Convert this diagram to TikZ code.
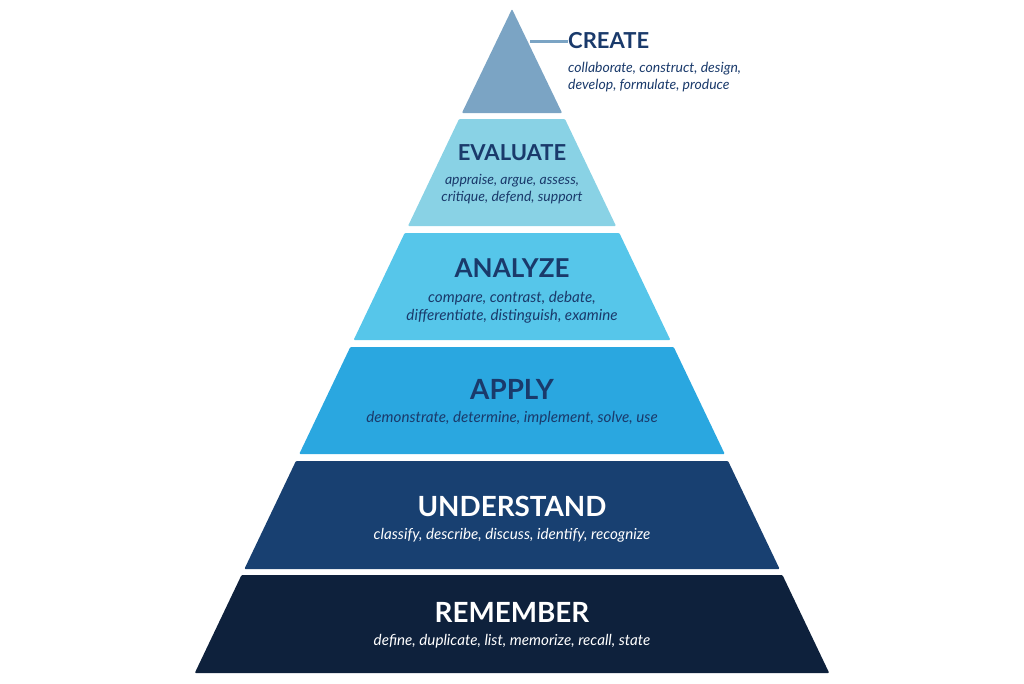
\documentclass[tikz,border=0pt]{standalone}
\usepackage{fontspec}
\setmainfont{Lato}
\usetikzlibrary{positioning}
\definecolor{colorcreate}    {RGB}{123,164,196}
\definecolor{colorevaluate}  {RGB}{137,210,229}
\definecolor{coloranalyze}   {RGB}{ 86,198,234}
\definecolor{colorapply}     {RGB}{ 42,167,224}
\definecolor{colorunderstand}{RGB}{ 24, 64,113}
\definecolor{colorremember}  {RGB}{ 14, 33, 60}
\definecolor{colortext}      {RGB}{ 26, 58,107}
% one band of the pyramid: name, top y, bottom y, colour
\newcommand{\pyrlayer}[4]{%
  \fill[#4,rounded corners=1pt] ({512-0.477*(#2-8)},#2) coordinate (#1 tl)
    -- ({512+0.477*(#2-8)},#2) coordinate (#1 tr)
    -- ({512+0.477*(#3-8)},#3) coordinate (#1 br)
    -- ({512-0.477*(#3-8)},#3) coordinate (#1 bl) -- cycle;}
\begin{document}
\begin{tikzpicture}[
    x=1pt, y=-1pt,
    head/.style={font={\fontsize{22}{26}\selectfont\bfseries},inner sep=0pt,anchor=base},
    bighead/.style={head,font={\fontsize{27.8}{32}\selectfont\bfseries}},
    words/.style={font={\fontsize{15.2}{17.5}\selectfont\itshape},inner sep=0pt,align=center,anchor=base},
]
    \useasboundingbox (0,0) rectangle (1024,683);

    \fill[colorcreate,rounded corners=1pt] (512,9) coordinate (apex)
        -- ({512+0.477*(113-8)},113) -- ({512-0.477*(113-8)},113) -- cycle;
    \pyrlayer{evaluate}{119}{226}{colorevaluate}
    \pyrlayer{analyze}{233}{340}{coloranalyze}
    \pyrlayer{apply}{347}{454}{colorapply}
    \pyrlayer{understand}{461}{569}{colorunderstand}
    \pyrlayer{remember}{575}{673}{colorremember}

    % create sits beside the tip
    \coordinate (tick) at (530,41);
    \node[head,text=colortext,anchor=base west] (create) at (568,48) {CREATE};
    \draw[colorcreate,line width=3pt] (tick) -- (create.west |- tick);
    \node[words,text=colortext,align=left,anchor=base west,font={\fontsize{14}{17}\selectfont\itshape}] (createw) at (568,89)
        {collaborate, construct, design,\\develop, formulate, produce};

    \node[head,text=colortext] (evaluate) at (512,160) {EVALUATE};
    \node[words,text=colortext,font={\fontsize{14}{17}\selectfont\itshape}] (evaluatew) at (512,201) {appraise, argue, assess,\\critique, defend, support};

    \node[head,text=colortext,font={\fontsize{26}{30}\selectfont\bfseries}] (analyze) at (512,277) {ANALYZE};
    \node[words,text=colortext] (analyzew) at (512,320) {compare, contrast, debate,\\differentiate, distinguish, examine};

    \node[bighead,text=colortext] (apply) at (512,399) {APPLY};
    \node[words,text=colortext] (applyw) at (512,422) {demonstrate, determine, implement, solve, use};

    \node[bighead,text=white] (understand) at (512,516) {UNDERSTAND};
    \node[words,text=white] (understandw) at (512,539) {classify, describe, discuss, identify, recognize};

    \node[bighead,text=white] (remember) at (512,622) {REMEMBER};
    \node[words,text=white] (rememberw) at (512,645) {define, duplicate, list, memorize, recall, state};

\end{tikzpicture}
\end{document}
